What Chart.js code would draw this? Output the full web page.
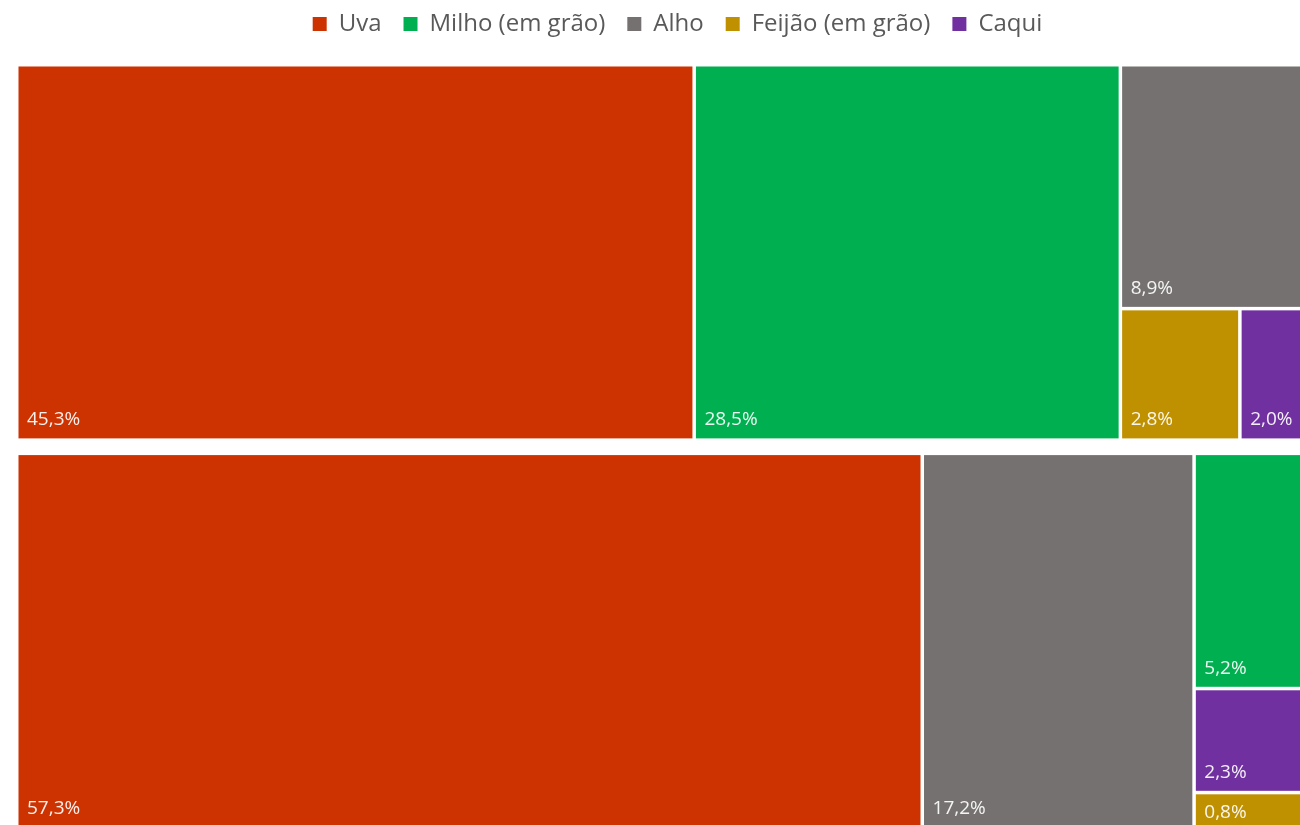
<!DOCTYPE html>
<html>
<head>
<meta charset="utf-8">
<title>Treemap</title>
<script src="https://cdn.jsdelivr.net/npm/chart.js@4.4.1/dist/chart.umd.min.js"></script>
<style>
    html, body { margin: 0; padding: 0; background: #fff; overflow: hidden; }
    #wrap { position: absolute; left: 0; top: -10px; width: 1355px; height: 842px; }
</style>
</head>
<body>
<div id="wrap"><canvas id="chart"></canvas></div>
<script>
// categorias (legenda) e valores de cada bloco, em % 
const categories = ['Uva', 'Milho (em grão)', 'Alho', 'Feijão (em grão)', 'Caqui'];
const colors = ['#CC3300', '#00B050', '#767171', '#BF9000', '#7030A0'];
const groups = ['Bloco superior', 'Bloco inferior'];
const valuesTop = [45.3, 28.5, 8.9, 2.8, 2.0];
const valuesBottom = [57.3, 5.2, 17.2, 0.8, 2.3];

const GROUP_GAP = 0.0352;   // espaço entre os dois blocos, em unidades do eixo y
const CELL_GAP = 1.75;      // meia linha branca entre as células (px)
const LEGEND_HEIGHT = 74.75;
const LEGEND_SHIFT = 6.5;

function sum(arr) { return arr.reduce((s, it) => s + it.a, 0); }

// pior proporção de uma fila (Bruls et al.)
function worst(row, side) {
    const s = sum(row);
    let max = -Infinity, min = Infinity;
    row.forEach(it => { max = Math.max(max, it.a); min = Math.min(min, it.a); });
    return Math.max(side * side * max / (s * s), (s * s) / (side * side * min));
}

function layoutRow(row, r, out) {
    const s = sum(row);
    if (r.w >= r.h) {
        const w = s / r.h;
        let y = r.y;
        row.forEach(it => { const h = it.a / w; out.push({ item: it, x: r.x, y: y, w: w, h: h }); y += h; });
        return { x: r.x + w, y: r.y, w: r.w - w, h: r.h };
    }
    const h = s / r.w;
    let x = r.x;
    row.forEach(it => { const w = it.a / h; out.push({ item: it, x: x, y: r.y, w: w, h: h }); x += w; });
    return { x: r.x, y: r.y + h, w: r.w, h: r.h - h };
}

function squarify(items, rect) {
    const out = [];
    let r = rect, row = [], i = 0;
    while (i < items.length) {
        const side = Math.min(r.w, r.h);
        const cand = row.concat([items[i]]);
        if (row.length === 0 || worst(cand, side) <= worst(row, side)) {
            row = cand;
            i++;
        } else {
            r = layoutRow(row, r, out);
            row = [];
        }
    }
    if (row.length) layoutRow(row, r, out);
    return out;
}

const fmt = v => v.toFixed(1).replace('.', ',') + '%';

const treemapPlugin = {
    id: 'treemap',
    afterDatasetsDraw(chart) {
        const { ctx, scales: { x, y } } = chart;
        const sx = Math.abs(x.getPixelForValue(1) - x.getPixelForValue(0));
        const sy = Math.abs(y.getPixelForValue(1) - y.getPixelForValue(0));
        const W = (x.max - x.min) * sx;
        const H = sy;
        ctx.save();
        groups.forEach((g, gi) => {
            const top = gi * (1 + GROUP_GAP);
            const items = chart.data.datasets
                .map((d, i) => ({ i: i, v: d.values[gi] }))
                .filter(it => it.v > 0)
                .sort((a, b) => b.v - a.v);
            const total = items.reduce((s, it) => s + it.v, 0);
            items.forEach(it => { it.a = it.v / total * W * H; });
            squarify(items, { x: 0, y: 0, w: W, h: H }).forEach(r => {
                const x0 = x.getPixelForValue(x.min + r.x / sx) + CELL_GAP;
                const x1 = x.getPixelForValue(x.min + (r.x + r.w) / sx) - CELL_GAP;
                const y0 = y.getPixelForValue(top + r.y / sy) + CELL_GAP;
                const y1 = y.getPixelForValue(top + (r.y + r.h) / sy) - CELL_GAP;
                ctx.fillStyle = colors[r.item.i];
                ctx.fillRect(x0, y0, x1 - x0, y1 - y0);

                // rótulo no canto inferior esquerdo
                ctx.fillStyle = 'rgba(255,255,255,0.92)';
                ctx.font = '19px "Open Sans"';
                ctx.textBaseline = 'alphabetic';
                ctx.textAlign = 'left';
                const base = Math.max(y1 - 13, y0 + (y1 - y0) / 2 + 7);
                ctx.fillText(fmt(r.item.v), x0 + 8.5, base);
            });
        });
        ctx.restore();
    }
};

const legendSpacing = {
    id: 'legendSpacing',
    beforeInit(chart) {
        const fit = chart.legend.fit;
        chart.legend.fit = function () {
            fit.call(this);
            this.height = LEGEND_HEIGHT;
        };
    },
    afterLayout(chart) {
        chart.legend.left += LEGEND_SHIFT;
        chart.legend.right += LEGEND_SHIFT;
    }
};

const ctx = document.getElementById('chart').getContext('2d');
new Chart(ctx, {
    type: 'scatter',
    data: {
        datasets: categories.map((c, i) => ({
            label: c,
            data: [],
            values: [valuesTop[i], valuesBottom[i]],
            backgroundColor: colors[i],
            borderColor: colors[i],
            borderWidth: 0,
            pointRadius: 0
        }))
    },
    options: {
        responsive: true,
        maintainAspectRatio: false,
        animation: false,
        layout: { padding: { left: 16.75, right: 29.75, top: 0, bottom: 3.25 } },
        scales: {
            x: { type: 'linear', min: 0, max: 100, display: false },
            y: { type: 'linear', min: 0, max: 2 + GROUP_GAP, reverse: true, display: false }
        },
        plugins: {
            tooltip: { enabled: false },
            legend: {
                position: 'top',
                onClick: null,
                labels: {
                    boxWidth: 14,
                    boxHeight: 14,
                    padding: 22,
                    color: '#595959',
                    font: { family: '"Open Sans"', size: 24 },
                    generateLabels: chart => chart.data.datasets.map((d, i) => ({
                        text: d.label,
                        fillStyle: d.backgroundColor,
                        strokeStyle: d.backgroundColor,
                        lineWidth: 0,
                        fontColor: '#595959',
                        hidden: false,
                        datasetIndex: i
                    }))
                }
            }
        }
    },
    plugins: [treemapPlugin, legendSpacing]
});
</script>
</body>
</html>
